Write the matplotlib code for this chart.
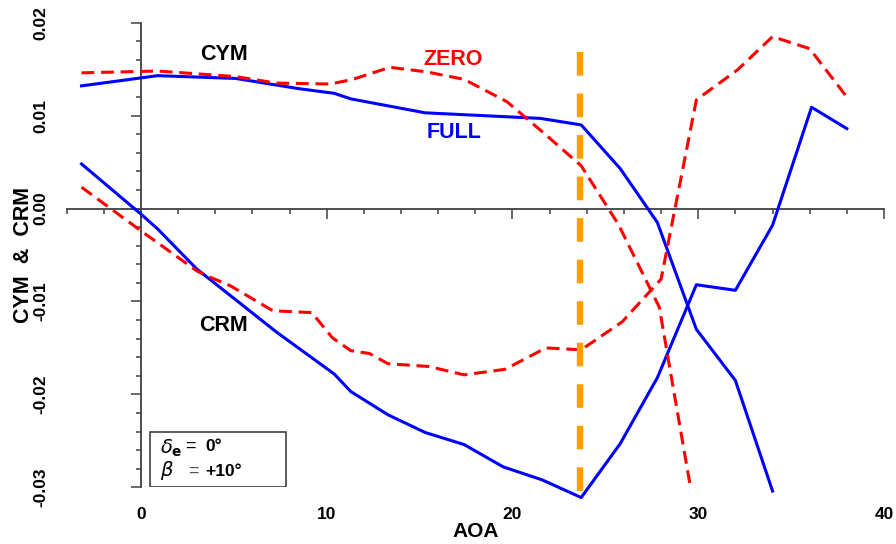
import matplotlib
matplotlib.use("Agg")
import matplotlib.pyplot as plt
from matplotlib.ticker import MultipleLocator
from matplotlib.patches import Rectangle

plt.rcParams['font.family'] = ['Liberation Sans', 'DejaVu Sans']
plt.rcParams['mathtext.fontset'] = 'dejavusans'

# ---- data ----
cym_full_x = [-3.2, 0.9, 5.1, 8.5, 10.4, 11.3, 15.3, 21.5, 23.7, 25.8, 27.8, 29.9, 32.0, 34.0]
cym_full_y = [0.0132, 0.0143, 0.0140, 0.0129, 0.0124, 0.0118, 0.0103, 0.0097, 0.0090, 0.0043,
              -0.0015, -0.0130, -0.0185, -0.0304]

cym_zero_x = [-3.2, 0.9, 5.1, 7.3, 10.2, 11.4, 13.4, 15.4, 17.4, 19.7, 21.7, 23.7, 25.7, 27.9, 29.6]
cym_zero_y = [0.0146, 0.0148, 0.0142, 0.0135, 0.0134, 0.0139, 0.0152, 0.0147, 0.0139, 0.0115,
              0.0081, 0.0046, -0.0017, -0.0106, -0.0302]

crm_full_x = [-3.2, 0.0, 0.9, 3.0, 7.3, 10.4, 11.3, 13.3, 15.3, 17.4, 19.5, 21.6, 23.7, 25.8,
              27.8, 29.9, 32.0, 34.0, 36.1, 38.0]
crm_full_y = [0.0048, -0.0006, -0.0022, -0.0065, -0.0133, -0.0178, -0.0197, -0.0222, -0.0241,
              -0.0254, -0.0278, -0.0292, -0.0311, -0.0253, -0.0182, -0.0082, -0.0088, -0.0018,
              0.0109, 0.0086]

crm_zero_x = [-3.2, 0.0, 3.0, 3.5, 4.8, 7.1, 9.2, 10.3, 11.3, 12.3, 13.3, 15.5, 17.4, 19.6, 21.8,
              23.7, 25.9, 28.0, 29.9, 32.1, 34.0, 36.0, 38.0]
crm_zero_y = [0.0023, -0.0024, -0.0067, -0.0072, -0.0083, -0.0110, -0.0112, -0.0139, -0.0153,
              -0.0156, -0.0167, -0.0170, -0.0179, -0.0173, -0.0150, -0.0152, -0.0122, -0.0076,
              0.0117, 0.0149, 0.0185, 0.0172, 0.0120]

stall_aoa = 23.65
stall_span = [0.0168, -0.0317]

x_ticks = [0, 10, 20, 30, 40]
y_ticks = [-0.03, -0.02, -0.01, 0.00, 0.01, 0.02]
y_tick_labels = ["-0.03", "-0.02", "-0.01", "0.00", "0.01", "0.02"]

# ---- figure ----
fig = plt.figure(figsize=(8.96, 5.44), dpi=100)
pos = [0.0744, 0.1042, 0.9122, 0.8541]
ax = fig.add_axes(pos)
xlim = (-4, 40)
ylim = (-0.03, 0.02)
ax.set_xlim(*xlim)
ax.set_ylim(*ylim)

axis_col = '#404040'
for s in ['top', 'right']:
    ax.spines[s].set_visible(False)
ax.spines['left'].set_position(('data', 0))
ax.spines['bottom'].set_position(('data', 0))
for s in ['left', 'bottom']:
    ax.spines[s].set_color(axis_col)
    ax.spines[s].set_linewidth(1.3)
    ax.spines[s].set_zorder(1)

ax.xaxis.set_major_locator(MultipleLocator(10))
ax.xaxis.set_minor_locator(MultipleLocator(2))
ax.yaxis.set_major_locator(MultipleLocator(0.01))
ax.yaxis.set_minor_locator(MultipleLocator(0.002))
ax.tick_params(axis='both', which='major', direction='out', length=7, width=1.1,
               color=axis_col, labelbottom=False, labelleft=False)
ax.tick_params(axis='both', which='minor', direction='out', length=3.6, width=1.1,
               color=axis_col)

lw = 2.2
ax.plot(cym_full_x, cym_full_y, color='#0000FF', lw=lw, clip_on=False, zorder=3)
ax.plot(crm_full_x, crm_full_y, color='#0000FF', lw=lw, clip_on=False, zorder=3)
ax.plot(cym_zero_x, cym_zero_y, color='#FF0000', lw=lw, dashes=(4.2, 2.2),
        clip_on=False, zorder=3)
ax.plot(crm_zero_x, crm_zero_y, color='#FF0000', lw=lw, dashes=(4.2, 2.2),
        clip_on=False, zorder=3)
ax.plot([stall_aoa, stall_aoa], stall_span, color='#FF9E00', lw=4.6,
        dashes=(3.7, 2.8), solid_capstyle='butt', dash_capstyle='butt',
        clip_on=False, zorder=4)

# curve labels
lab_fs = 15.5
ax.text(4.46, 0.01663, 'CYM', fontsize=lab_fs, fontweight='bold', color='black',
        ha='center', va='center')
ax.text(4.46, -0.01261, 'CRM', fontsize=lab_fs, fontweight='bold', color='black',
        ha='center', va='center')
ax.text(16.8, 0.0160, 'ZERO', fontsize=lab_fs, fontweight='bold', color='#FF0000',
        ha='center', va='center')
ax.text(16.86, 0.00819, 'FULL', fontsize=lab_fs, fontweight='bold', color='#0000FF',
        ha='center', va='center')

# condition box
ax.add_patch(Rectangle((0.102, 0.0), 0.166, 0.12, transform=ax.transAxes,
                       facecolor='white', edgecolor='#303030', lw=1.1, zorder=5))
ax.text(0.114, 0.0846, r'$\delta_{\mathbf{e}}$', transform=ax.transAxes, fontsize=14,
        ha='left', va='center', zorder=6)
ax.text(0.114, 0.037, r'$\beta$', transform=ax.transAxes, fontsize=14,
        ha='left', va='center', zorder=6)
ax.text(0.145, 0.088, '=', transform=ax.transAxes, fontsize=13,
        ha='left', va='center', zorder=6)
ax.text(0.148, 0.035, '=', transform=ax.transAxes, fontsize=13, color='#555555',
        ha='left', va='center', zorder=6)
ax.text(0.1692, 0.088, '0°', transform=ax.transAxes, fontsize=12.5, fontweight='bold',
        ha='left', va='center', zorder=6)
ax.text(0.1692, 0.035, '+10°', transform=ax.transAxes, fontsize=12.5, fontweight='bold',
        ha='left', va='center', zorder=6)

# overlay axes carrying the tick labels and axis titles at the frame edges
ax2 = fig.add_axes(pos, frameon=False)
ax2.set_xlim(*xlim)
ax2.set_ylim(*ylim)
ax2.patch.set_visible(False)
ax2.set_xticks(x_ticks)
ax2.set_xticklabels([str(v) for v in x_ticks], fontsize=12.5, fontweight='bold')
ax2.set_yticks(y_ticks)
ax2.set_yticklabels(y_tick_labels, fontsize=12.5, fontweight='bold', rotation=90,
                    va='center')
ax2.tick_params(axis='x', length=0, pad=14)
ax2.tick_params(axis='y', length=0, pad=13)
ax2.set_xlabel('AOA', fontsize=15, fontweight='bold', labelpad=0)
ax2.set_ylabel('CYM  &  CRM', fontsize=15.5, fontweight='bold', labelpad=0)

fig.savefig('out.png', dpi=100)
